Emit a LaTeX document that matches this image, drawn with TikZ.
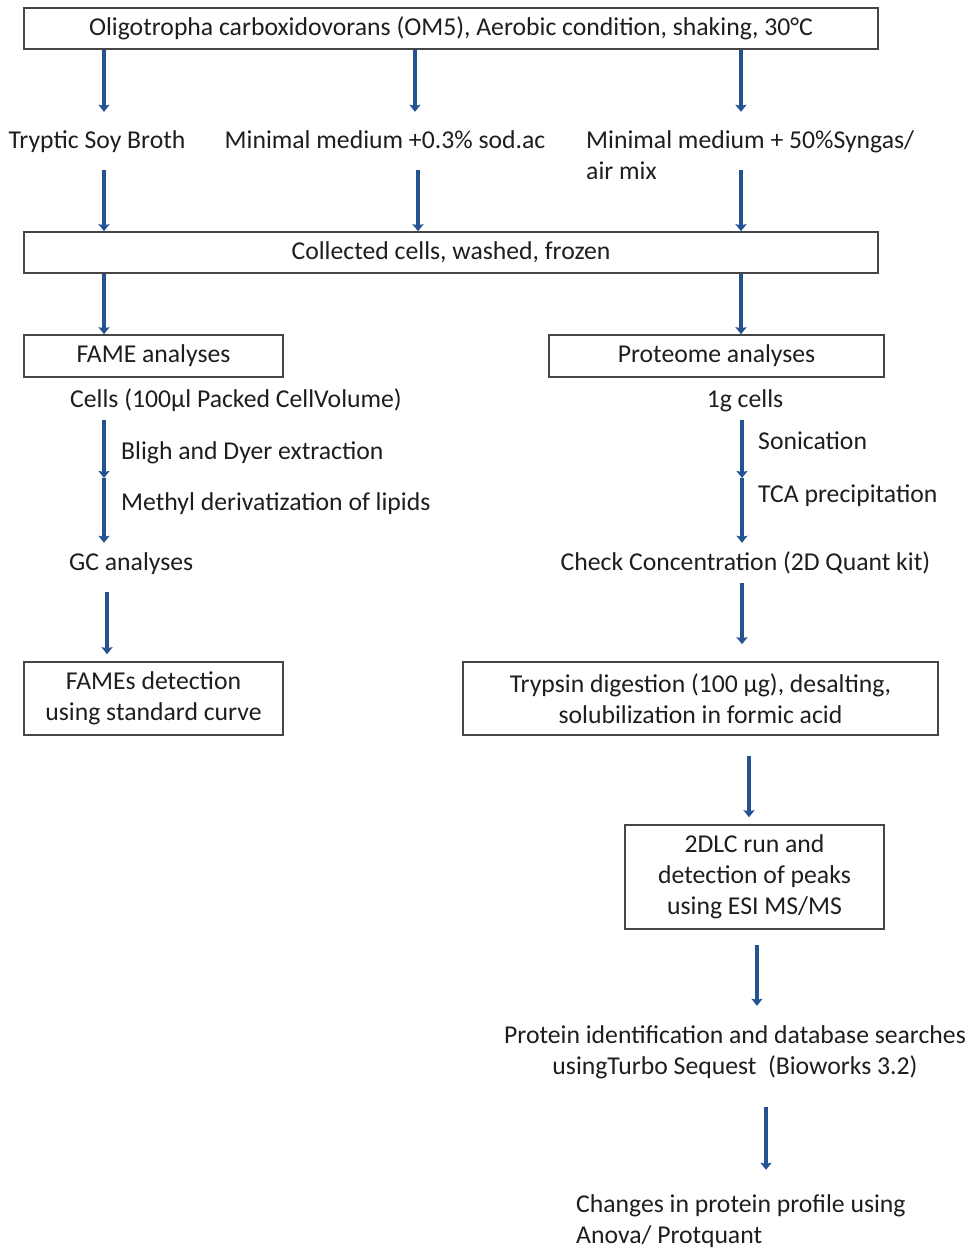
\documentclass[tikz,border=0pt]{standalone}
\usepackage{fontspec}
\setmainfont{Carlito}
\usetikzlibrary{arrows.meta}
\definecolor{arrblue}{RGB}{36,82,146}
\definecolor{boxgray}{RGB}{70,70,70}
\definecolor{txtc}{RGB}{30,30,30}
\newcommand\stt{\rule[-6pt]{0pt}{24pt}}
\tikzset{
  txt/.style={inner sep=0pt, text height=18pt, text depth=6pt, text=txtc,
    font=\fontsize{25.7}{31}\selectfont},
  txtml/.style={inner sep=0pt, text=txtc,
    font=\fontsize{25.7}{31}\selectfont},
  stepbox/.style={draw=boxgray, line width=1.6pt, inner sep=0pt, text=txtc,
    font=\fontsize{25.7}{31}\selectfont, align=center},
  arr/.style={draw=arrblue, line width=4pt,
    -{Stealth[length=7pt,width=11pt,inset=1pt]}},
}
\begin{document}
\begin{tikzpicture}[x=1pt,y=-1pt]
\useasboundingbox[fill=white] (0,0) rectangle (971,1249);
% boxes
\node[stepbox, minimum width=854pt, minimum height=41pt] (top) at (451,28.5)
  {Oligotropha carboxidovorans (OM5), Aerobic condition, shaking, 30°C};
\node[stepbox, minimum width=854pt, minimum height=41pt] (coll) at (451,252.5)
  {Collected cells, washed, frozen};
\node[stepbox, minimum width=259pt, minimum height=42pt] (fame) at (153.5,356)
  {FAME analyses};
\node[stepbox, minimum width=335pt, minimum height=42pt] (prot) at (716.5,356)
  {Proteome analyses};
\node[stepbox, minimum width=259pt, minimum height=73pt] (fdet) at (153.5,698.5)
  {FAMEs detection\\using standard curve};
\node[stepbox, minimum width=475pt, minimum height=73pt] (tryp) at (700.5,698.5)
  {Trypsin digestion (100 µg), desalting,\\solubilization in formic acid};
\node[stepbox, minimum width=259pt, minimum height=104pt] (lc) at (754.5,877)
  {2DLC run and\\detection of peaks\\using ESI MS/MS};
% text nodes
\node[txt] (tsb) at (97,143) {Tryptic Soy Broth};
\node[txt] (mm1) at (385,143) {Minimal medium +0.3\% sod.ac};
\node[txtml, align=left, anchor=west] (mm2) at (586,158.5) {\stt Minimal medium + 50\%Syngas/\\air mix\stt};
\node[txt] (cells) at (236,401) {Cells (100µl Packed CellVolume)};
\node[txt] (oneg) at (745,401) {1g cells};
\node[txt, anchor=west] (bligh) at (121,453) {Bligh and Dyer extraction};
\node[txt, anchor=west] (methyl) at (121,504) {Methyl derivatization of lipids};
\node[txt, anchor=west] (gc) at (69,564) {GC analyses};
\node[txt, anchor=west] (sonic) at (758,443) {Sonication};
\node[txt, anchor=west] (tca) at (758,496) {TCA precipitation};
\node[txt] (check) at (745.5,564) {Check Concentration (2D Quant kit)};
\node[txtml, align=center] (pid) at (735,1052.5) {\stt Protein identification and database searches\\usingTurbo Sequest\ \ (Bioworks 3.2)\stt};
\node[txtml, align=left, anchor=west] (chg) at (576,1221.5) {\stt Changes in protein profile using\\Anova/ Protquant\stt};
% arrow columns
\coordinate (cA) at (104,0);
\coordinate (cB) at (415,0);
\coordinate (cB2) at (418,0);
\coordinate (cC) at (741,0);
\coordinate (cD) at (107,0);
\coordinate (cE) at (742,0);
\coordinate (cF) at (749,0);
\coordinate (cG) at (757,0);
\coordinate (cH) at (766,0);
\coordinate (m1) at (104,478);
\coordinate (m2) at (742,478);
% arrows
\draw[arr, shorten >=19pt] (top.south -| cA) -- (tsb.north -| cA);
\draw[arr, shorten >=19pt] (top.south -| cB) -- (mm1.north -| cB);
\draw[arr, shorten >=19pt] (top.south -| cC) -- (mm2.north -| cC);
\draw[arr, shorten <=15pt] (tsb.south -| cA) -- (coll.north -| cA);
\draw[arr, shorten <=15pt] (mm1.south -| cB2) -- (coll.north -| cB2);
\draw[arr, shorten <=-16pt] (mm2.south -| cC) -- (coll.north -| cC);
\draw[arr] (coll.south -| cA) -- (fame.north -| cA);
\draw[arr] (coll.south -| cC) -- (prot.north -| cC);
\draw[arr, shorten <=7pt] (cells.south -| cA) -- (m1);
\draw[arr, shorten >=9pt] (m1) -- (gc.north -| cA);
\draw[arr, shorten <=16pt, shorten >=7pt] (gc.south -| cD) -- (fdet.north -| cD);
\draw[arr, shorten <=7pt] (oneg.south -| cE) -- (m2);
\draw[arr, shorten >=9pt] (m2) -- (check.north -| cE);
\draw[arr, shorten <=7pt, shorten >=17pt] (check.south -| cE) -- (tryp.north -| cE);
\draw[arr, shorten <=20pt, shorten >=7pt] (tryp.south -| cF) -- (lc.north -| cF);
\draw[arr, shorten <=15pt, shorten >=19pt] (lc.south -| cG) -- (pid.north -| cG);
\draw[arr, shorten <=27pt, shorten >=24pt] (pid.south -| cH) -- (chg.north -| cH);
\end{tikzpicture}
\end{document}
